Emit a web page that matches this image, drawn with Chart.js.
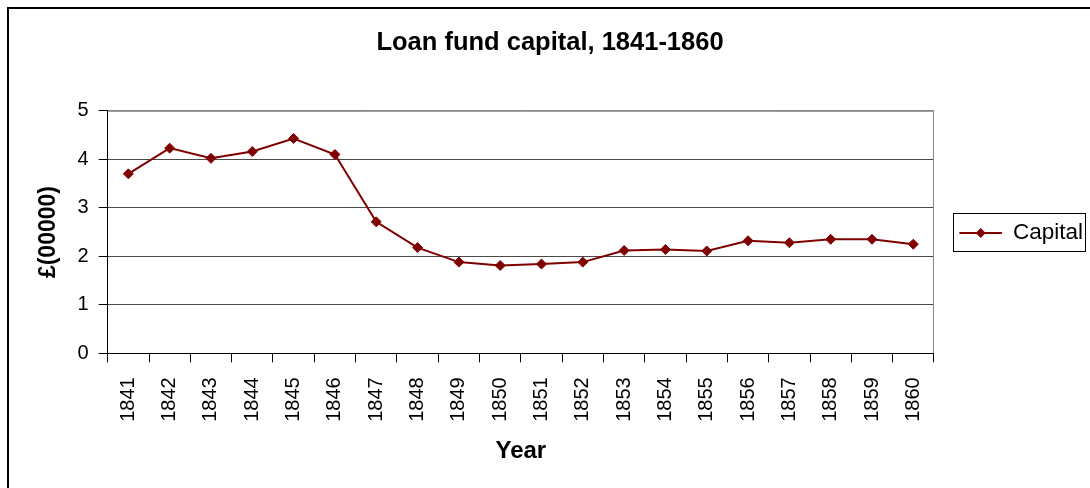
<!DOCTYPE html>
<html>
<head>
<meta charset="utf-8">
<script src="https://cdn.jsdelivr.net/npm/chart.js@4"></script>
<style>
  body { margin: 0; background: #fff; }
  #wrap { position: relative; width: 1090px; height: 488px; overflow: hidden; }
  #frame { position: absolute; left: 7px; top: 7px; width: 1100px; height: 500px;
           border-left: 2px solid #000; border-top: 2px solid #000; }
  canvas { position: absolute; left: 0; top: 0; }
</style>
</head>
<body>
<div id="wrap">
  <div id="frame"></div>
  <canvas id="capCanvas" width="1090" height="488"></canvas>
</div>
<script>
// datos
const years = ['1841','1842','1843','1844','1845','1846','1847','1848','1849','1850',
               '1851','1852','1853','1854','1855','1856','1857','1858','1859','1860'];
const capital = [3.70, 4.23, 4.02, 4.16, 4.43, 4.10, 2.71, 2.18, 1.88, 1.81,
                 1.84, 1.88, 2.12, 2.14, 2.11, 2.32, 2.28, 2.35, 2.35, 2.25];
const seriesName = 'Capital';
const chartTitle = 'Loan fund capital, 1841-1860';
const yTitle = '£(00000)';
const xTitle = 'Year';

const RED = '#800000';
const LEG_BOX = 42;

Chart.defaults.font.family = '"Liberation Sans", Arial, sans-serif';
Chart.defaults.color = '#000';

// borde del área de trazado + recuadro de leyenda
const framePlugin = {
  id: 'framePlugin',
  beforeDatasetsDraw(chart) {
    const a = chart.chartArea, c = chart.ctx;
    c.save();
    c.strokeStyle = '#888';
    c.lineWidth = 1;
    c.beginPath();
    c.moveTo(a.left, a.top + 0.5);
    c.lineTo(a.right - 0.5, a.top + 0.5);
    c.lineTo(a.right - 0.5, a.bottom);
    c.stroke();
    c.restore();
  },
  afterDraw(chart) {
    const lg = chart.legend;
    if (!lg || !lg.legendHitBoxes.length) return;
    const hb = lg.legendHitBoxes[0];
    const c = chart.ctx;
    const cy = hb.top + hb.height / 2;
    c.save();
    c.strokeStyle = '#000';
    c.lineWidth = 1;
    c.strokeRect(953.5, cy - 19.5, 132, 38);
    // rombo en la leyenda
    const bx = hb.left + LEG_BOX / 2;
    const r = 5;
    c.fillStyle = RED;
    c.beginPath();
    c.moveTo(bx, cy - r); c.lineTo(bx + r, cy); c.lineTo(bx, cy + r); c.lineTo(bx - r, cy);
    c.closePath();
    c.fill();
    c.restore();
  }
};

new Chart(document.getElementById('capCanvas').getContext('2d'), {
  type: 'line',
  data: {
    labels: years,
    datasets: [{
      label: seriesName,
      data: capital,
      borderColor: RED,
      backgroundColor: RED,
      borderWidth: 2,
      pointStyle: 'rectRot',
      pointRadius: 5,
      pointBorderWidth: 1,
      pointBackgroundColor: RED,
      pointBorderColor: RED,
      tension: 0
    }]
  },
  options: {
    responsive: false,
    animation: false,
    layout: { padding: { left: 7, right: -3, top: 0, bottom: 22 } },
    plugins: {
      title: {
        display: true,
        text: chartTitle,
        font: { size: 25.5, weight: 'bold' },
        color: '#000',
        padding: { top: 28, bottom: 52.2 }
      },
      legend: {
        position: 'right',
        align: 'center',
        labels: {
          boxWidth: LEG_BOX,
          boxHeight: 1,
          padding: 25.75,
          font: { size: 22.5 },
          color: '#000',
          generateLabels: chart => Chart.defaults.plugins.legend.labels.generateLabels(chart)
            .map(l => ({ ...l, lineWidth: 1 }))
        }
      },
      tooltip: { enabled: false }
    },
    scales: {
      x: {
        offset: true,
        grid: { offset: true, drawOnChartArea: false, color: '#000', tickLength: 9 },
        border: { color: '#000', width: 1 },
        ticks: { minRotation: 90, maxRotation: 90, autoSkip: false, font: { size: 20 }, color: '#000', padding: 15 },
        title: { display: true, text: xTitle, font: { size: 24, weight: 'bold' }, color: '#000', padding: { top: 0, bottom: 0 } },
        afterFit: s => { s.height = 112.7; }
      },
      y: {
        min: 0,
        max: 5,
        ticks: { stepSize: 1, font: { size: 20 }, color: '#000', padding: 10 },
        grid: {
          color: ctx => (ctx.tick && ctx.tick.value === 5) ? '#888' : '#4a4a4a',
          tickColor: '#000',
          tickLength: 9
        },
        border: { color: '#000', width: 1 },
        title: { display: true, text: yTitle, font: { size: 23, weight: 'bold' }, color: '#000', padding: { top: 28, bottom: 0 } },
        afterFit: s => { s.width = 100.7; }
      }
    }
  },
  plugins: [framePlugin]
});
</script>
</body>
</html>
